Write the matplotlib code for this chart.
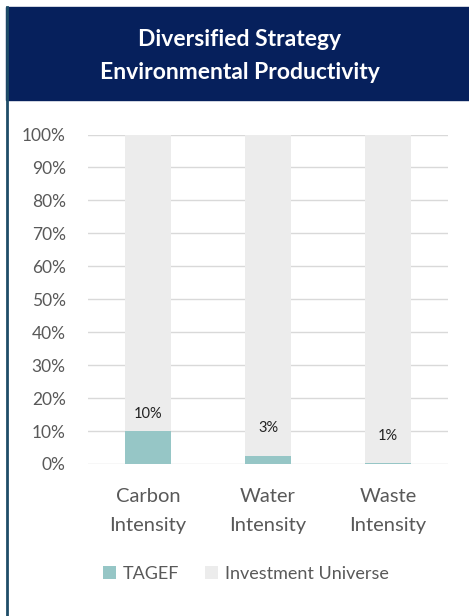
import matplotlib
matplotlib.use("Agg")
import matplotlib.pyplot as plt
from matplotlib.patches import Rectangle
from matplotlib.lines import Line2D

plt.rcParams['font.family'] = ['Lato', 'DejaVu Sans']

# data
categories = ["Carbon\nIntensity", "Water\nIntensity", "Waste\nIntensity"]
tagef = [10.0, 2.3, 0.4]
universe = [100 - v for v in tagef]
value_labels = ["10%", "3%", "1%"]
title_lines = "Diversified Strategy\nEnvironmental Productivity"

TEAL = "#96c6c6"
LIGHT = "#ececec"
NAVY = "#06205c"
GREY_TXT = "#595959"

fig = plt.figure(figsize=(4.69, 6.16), dpi=100)

# header banner + left frame line
fig.patches.append(Rectangle((6 / 469, 1 - 100 / 616), 1, 93 / 616,
                             transform=fig.transFigure, color=NAVY, zorder=0))
fig.lines.append(Line2D([7 / 469, 7 / 469], [0, 1 - 7 / 616],
                        transform=fig.transFigure, color="#1f4d68", lw=2))
fig.text(240 / 469, 1 - 56 / 616, title_lines, ha="center", va="center",
         color="white", fontsize=16.5, fontweight="bold", linespacing=1.65)

ax = fig.add_axes([88 / 469, 1 - 464 / 616, 360 / 469, 329.5 / 616])
x = range(len(categories))
ax.bar(x, tagef, width=0.39, color=TEAL, linewidth=0, label="TAGEF", zorder=2)
ax.bar(x, universe, width=0.39, bottom=tagef, color=LIGHT, linewidth=0,
       label="Investment Universe", zorder=2)

label_offsets = [12.5, 20.5, 19]
for i, (v, lab) in enumerate(zip(tagef, value_labels)):
    ax.annotate(lab, (i, v), xytext=(0, label_offsets[i]), textcoords="offset points",
                ha="center", va="center", fontsize=10.5, color="#222222")

ax.set_xlim(-0.5, 2.5)
ax.set_ylim(0, 100)
ax.set_yticks(range(0, 101, 10))
ax.set_yticklabels([f"{t}%" for t in range(0, 101, 10)])
ax.set_xticks(list(x))
ax.set_xticklabels(categories, fontsize=14.5, color=GREY_TXT, linespacing=1.9)
ax.tick_params(axis="y", length=0, pad=16, labelsize=12.5, labelcolor=GREY_TXT)
ax.tick_params(axis="x", length=0, pad=17)
ax.grid(axis="y", color="#d9d9d9", lw=1, zorder=0)
for s in ax.spines.values():
    s.set_visible(False)

ax.legend(loc="center", bbox_to_anchor=(246 / 469, 1 - 574 / 616),
          bbox_transform=fig.transFigure, ncol=2, frameon=False,
          handlelength=0.7, handleheight=0.7, handletextpad=0.4,
          columnspacing=1.4, fontsize=13, labelcolor=GREY_TXT)

fig.savefig("out.png", dpi=100)
